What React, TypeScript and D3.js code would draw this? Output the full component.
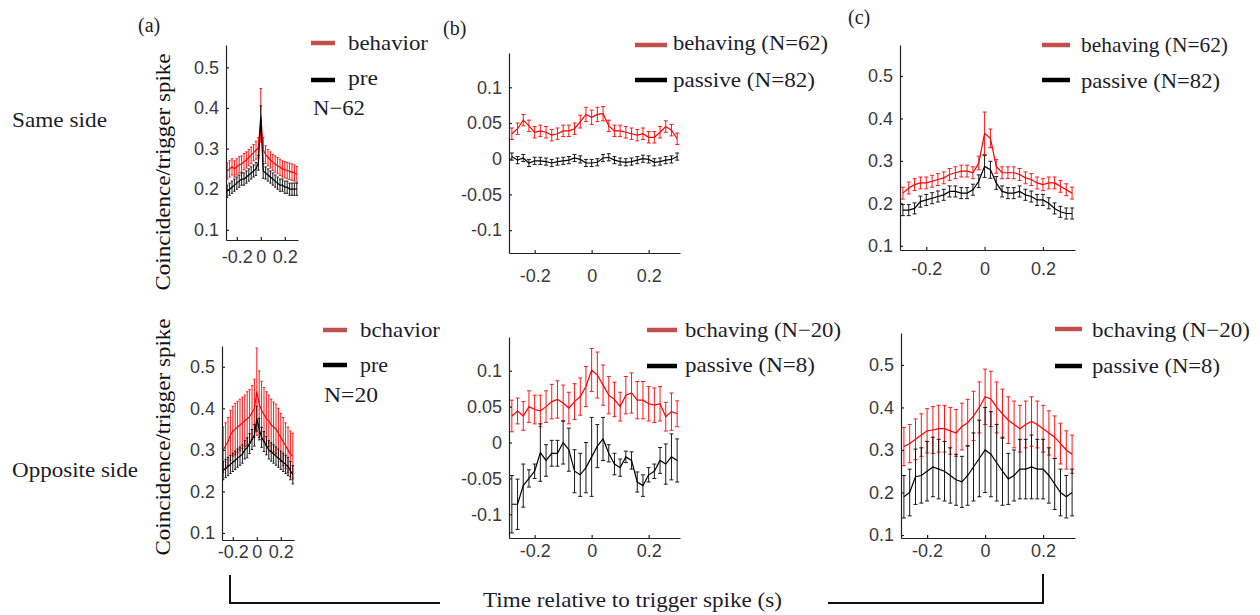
import { useEffect, useRef } from 'react';
import * as d3 from 'd3';

// time lags (s) of the coincidence histogram bins
const lag = [-0.28, -0.26, -0.24, -0.22, -0.2, -0.18, -0.16, -0.14, -0.12, -0.1, -0.08, -0.06, -0.04, -0.02, 0,
  0.02, 0.04, 0.06, 0.08, 0.1, 0.12, 0.14, 0.16, 0.18, 0.2, 0.22, 0.24, 0.26, 0.28, 0.3];

const xTicks = [-0.2, 0, 0.2];
const yTicksHigh = [0.1, 0.2, 0.3, 0.4, 0.5];
const yTicksLow = [-0.1, -0.05, 0, 0.05, 0.1];

// (a) same side
const aSameBeh = [0.245, 0.25, 0.255, 0.25, 0.255, 0.26, 0.262, 0.268, 0.272, 0.278, 0.284, 0.29, 0.296, 0.302, 0.382, 0.298, 0.285, 0.278, 0.272, 0.266, 0.262, 0.258, 0.254, 0.25, 0.248, 0.246, 0.244, 0.242, 0.24, 0.236];
const aSameBehErr = [0.02, 0.02, 0.02, 0.02, 0.02, 0.02, 0.02, 0.02, 0.02, 0.02, 0.02, 0.02, 0.022, 0.025, 0.066, 0.03, 0.022, 0.02, 0.02, 0.02, 0.02, 0.02, 0.02, 0.02, 0.02, 0.02, 0.02, 0.02, 0.02, 0.02];
const aSamePre = [0.195, 0.2, 0.205, 0.21, 0.215, 0.22, 0.225, 0.225, 0.23, 0.235, 0.24, 0.245, 0.25, 0.265, 0.375, 0.245, 0.24, 0.235, 0.23, 0.225, 0.22, 0.215, 0.21, 0.21, 0.205, 0.205, 0.2, 0.2, 0.2, 0.2];
const aSamePreErr = [0.015, 0.015, 0.015, 0.015, 0.015, 0.015, 0.015, 0.015, 0.015, 0.015, 0.015, 0.015, 0.016, 0.018, 0.03, 0.018, 0.015, 0.015, 0.015, 0.015, 0.015, 0.015, 0.015, 0.015, 0.015, 0.015, 0.015, 0.015, 0.015, 0.015];

// (b) same side
const bSameBeh = [0.035, 0.042, 0.054, 0.046, 0.037, 0.039, 0.037, 0.033, 0.035, 0.039, 0.039, 0.042, 0.052, 0.062, 0.058, 0.062, 0.063, 0.046, 0.039, 0.039, 0.037, 0.035, 0.033, 0.035, 0.03, 0.03, 0.037, 0.045, 0.04, 0.028];
const bSameBehErr = [0.008, 0.008, 0.008, 0.008, 0.008, 0.008, 0.008, 0.008, 0.008, 0.008, 0.008, 0.008, 0.009, 0.01, 0.01, 0.01, 0.01, 0.008, 0.008, 0.008, 0.008, 0.008, 0.008, 0.008, 0.008, 0.008, 0.008, 0.008, 0.008, 0.008];
const bSamePas = [0.003, -0.002, 0.001, -0.006, -0.003, -0.003, -0.004, -0.006, -0.004, -0.003, -0.002, 0.001, -0.001, -0.006, -0.006, -0.005, 0.001, 0.002, -0.002, -0.004, -0.005, -0.004, -0.002, 0.0, -0.001, -0.005, -0.004, -0.002, -0.001, 0.003];
const bSamePasErr = [0.005, 0.005, 0.005, 0.005, 0.005, 0.005, 0.005, 0.005, 0.005, 0.005, 0.005, 0.005, 0.005, 0.005, 0.005, 0.005, 0.005, 0.005, 0.005, 0.005, 0.005, 0.005, 0.005, 0.005, 0.005, 0.005, 0.005, 0.005, 0.005, 0.005];

// (c) same side
const cSameBeh = [0.224, 0.236, 0.244, 0.248, 0.248, 0.252, 0.256, 0.26, 0.268, 0.272, 0.276, 0.276, 0.272, 0.295, 0.365, 0.353, 0.287, 0.272, 0.272, 0.272, 0.268, 0.26, 0.256, 0.248, 0.244, 0.248, 0.248, 0.24, 0.232, 0.224];
const cSameBehErr = [0.014, 0.014, 0.014, 0.014, 0.014, 0.014, 0.014, 0.014, 0.014, 0.014, 0.014, 0.014, 0.014, 0.016, 0.05, 0.022, 0.016, 0.014, 0.014, 0.014, 0.014, 0.014, 0.014, 0.014, 0.014, 0.014, 0.014, 0.014, 0.014, 0.014];
const cSamePas = [0.184, 0.184, 0.188, 0.204, 0.208, 0.212, 0.216, 0.22, 0.228, 0.228, 0.224, 0.224, 0.232, 0.252, 0.287, 0.279, 0.248, 0.228, 0.224, 0.224, 0.228, 0.22, 0.216, 0.208, 0.208, 0.2, 0.188, 0.18, 0.176, 0.176];
const cSamePasErr = [0.013, 0.013, 0.013, 0.013, 0.013, 0.013, 0.013, 0.013, 0.013, 0.013, 0.013, 0.013, 0.013, 0.015, 0.026, 0.02, 0.015, 0.013, 0.013, 0.013, 0.013, 0.013, 0.013, 0.013, 0.013, 0.013, 0.013, 0.013, 0.013, 0.013];

// (a) opposite side
const aOppBeh = [0.3, 0.31, 0.32, 0.335, 0.345, 0.35, 0.355, 0.36, 0.365, 0.37, 0.375, 0.38, 0.39, 0.4, 0.44, 0.41, 0.395, 0.385, 0.375, 0.37, 0.36, 0.355, 0.35, 0.34, 0.33, 0.32, 0.31, 0.3, 0.29, 0.285];
const aOppBehErr = [0.055, 0.055, 0.058, 0.06, 0.06, 0.062, 0.062, 0.062, 0.062, 0.062, 0.065, 0.065, 0.065, 0.07, 0.105, 0.08, 0.07, 0.065, 0.065, 0.062, 0.062, 0.06, 0.06, 0.06, 0.058, 0.058, 0.055, 0.055, 0.055, 0.055];
const aOppPre = [0.25, 0.255, 0.26, 0.265, 0.27, 0.275, 0.28, 0.285, 0.29, 0.3, 0.305, 0.315, 0.325, 0.335, 0.375, 0.35, 0.33, 0.32, 0.31, 0.3, 0.295, 0.29, 0.285, 0.28, 0.275, 0.27, 0.265, 0.26, 0.25, 0.24];
const aOppPreErr = [0.022, 0.022, 0.022, 0.022, 0.022, 0.022, 0.022, 0.022, 0.022, 0.022, 0.024, 0.024, 0.024, 0.026, 0.03, 0.026, 0.024, 0.024, 0.022, 0.022, 0.022, 0.022, 0.022, 0.022, 0.022, 0.022, 0.022, 0.022, 0.022, 0.022];

// (b) opposite side
const bOppBeh = [0.037, 0.044, 0.037, 0.05, 0.046, 0.044, 0.05, 0.057, 0.06, 0.055, 0.048, 0.057, 0.064, 0.078, 0.101, 0.094, 0.08, 0.066, 0.06, 0.05, 0.066, 0.069, 0.059, 0.059, 0.054, 0.052, 0.054, 0.036, 0.043, 0.04];
const bOppBehErr = [0.022, 0.018, 0.02, 0.022, 0.02, 0.022, 0.022, 0.024, 0.026, 0.025, 0.022, 0.025, 0.026, 0.028, 0.03, 0.032, 0.028, 0.026, 0.024, 0.02, 0.026, 0.028, 0.026, 0.026, 0.024, 0.024, 0.024, 0.02, 0.026, 0.018];
const bOppPas = [-0.086, -0.086, -0.06, -0.05, -0.04, -0.014, -0.025, -0.015, -0.015, 0.0, -0.01, -0.04, -0.045, -0.035, -0.02, -0.005, 0.005, -0.015, -0.03, -0.035, -0.02, -0.025, -0.055, -0.06, -0.045, -0.04, -0.025, -0.03, -0.02, -0.025];
const bOppPasErr = [0.04, 0.035, 0.03, 0.012, 0.01, 0.04, 0.022, 0.018, 0.018, 0.03, 0.03, 0.03, 0.03, 0.035, 0.055, 0.03, 0.03, 0.012, 0.015, 0.012, 0.008, 0.012, 0.014, 0.015, 0.01, 0.01, 0.018, 0.028, 0.032, 0.03];

// (c) opposite side
const cOppBeh = [0.308, 0.315, 0.325, 0.335, 0.345, 0.347, 0.35, 0.35, 0.345, 0.34, 0.355, 0.364, 0.38, 0.4, 0.425, 0.42, 0.4, 0.385, 0.37, 0.36, 0.35, 0.36, 0.367, 0.36, 0.35, 0.34, 0.33, 0.315, 0.3, 0.29];
const cOppBehErr = [0.045, 0.045, 0.048, 0.05, 0.052, 0.055, 0.055, 0.055, 0.055, 0.055, 0.055, 0.055, 0.058, 0.06, 0.065, 0.065, 0.06, 0.058, 0.055, 0.055, 0.055, 0.055, 0.058, 0.055, 0.055, 0.052, 0.05, 0.048, 0.045, 0.045];
const cOppPas = [0.19, 0.2, 0.237, 0.24, 0.25, 0.26, 0.255, 0.25, 0.24, 0.23, 0.225, 0.24, 0.26, 0.28, 0.3, 0.29, 0.27, 0.25, 0.232, 0.24, 0.255, 0.255, 0.26, 0.255, 0.255, 0.24, 0.22, 0.2, 0.19, 0.2];
const cOppPasErr = [0.05, 0.055, 0.065, 0.065, 0.07, 0.07, 0.07, 0.07, 0.065, 0.06, 0.06, 0.07, 0.08, 0.09, 0.1, 0.1, 0.09, 0.08, 0.06, 0.06, 0.07, 0.07, 0.075, 0.07, 0.07, 0.065, 0.06, 0.055, 0.05, 0.055];

const RED = '#ff0000';
const BLACK = '#000000';
const SWATCH_RED = '#c0504d';
const SERIF = '"Liberation Serif", "Times New Roman", serif';
const SANS = '"Liberation Sans", Arial, sans-serif';

const panels = [
  { left: 226, right: 298, top: 45, bottom: 240, yDomain: [0.075, 0.555], yTicks: yTicksHigh, xPad: 10, cap: 1.2,
    series: [[aSameBeh, aSameBehErr, RED], [aSamePre, aSamePreErr, BLACK]],
    legend: [
      { sx: 311, sw: 24, sy: 43, color: SWATCH_RED, tx: 348, ty: 50, text: 'behavior', w: 80 },
      { sx: 311, sw: 24, sy: 80, color: BLACK, tx: 348, ty: 85, text: 'pre', w: 30 },
      { tx: 313, ty: 115, text: 'N\u221262', w: 52 },
    ] },
  { left: 509, right: 680, top: 53, bottom: 253, yDomain: [-0.132, 0.148], yTicks: yTicksLow, xPad: 16, cap: 2,
    series: [[bSameBeh, bSameBehErr, RED], [bSamePas, bSamePasErr, BLACK]],
    legend: [
      { sx: 635, sw: 32, sy: 45, color: SWATCH_RED, tx: 673, ty: 50, text: 'behaving (N=62)', w: 155 },
      { sx: 635, sw: 32, sy: 80, color: BLACK, tx: 673, ty: 87, text: 'passive (N=82)', w: 142 },
    ] },
  { left: 900, right: 1075, top: 45, bottom: 250, yDomain: [0.09, 0.573], yTicks: yTicksHigh, xPad: 12, cap: 2,
    series: [[cSameBeh, cSameBehErr, RED], [cSamePas, cSamePasErr, BLACK]],
    legend: [
      { sx: 1042, sw: 28, sy: 45, color: SWATCH_RED, tx: 1081, ty: 52, text: 'behaving (N=62)', w: 147 },
      { sx: 1042, sw: 28, sy: 80, color: BLACK, tx: 1081, ty: 88, text: 'passive (N=82)', w: 139 },
    ] },
  { left: 222, right: 294, top: 346, bottom: 540, yDomain: [0.083, 0.55], yTicks: yTicksHigh, xPad: 5, cap: 1.2,
    series: [[aOppBeh, aOppBehErr, RED], [aOppPre, aOppPreErr, BLACK]],
    legend: [
      { sx: 323, sw: 24, sy: 330, color: SWATCH_RED, tx: 360, ty: 337, text: 'bchavior', w: 80 },
      { sx: 323, sw: 24, sy: 365, color: BLACK, tx: 360, ty: 372, text: 'pre', w: 28 },
      { tx: 324, ty: 402, text: 'N=20', w: 54 },
    ] },
  { left: 509, right: 680, top: 337, bottom: 538, yDomain: [-0.133, 0.147], yTicks: yTicksLow, xPad: 6, cap: 2,
    series: [[bOppBeh, bOppBehErr, RED], [bOppPas, bOppPasErr, BLACK]],
    legend: [
      { sx: 647, sw: 30, sy: 330, color: SWATCH_RED, tx: 685, ty: 337, text: 'bchaving (N\u221220)', w: 156 },
      { sx: 647, sw: 30, sy: 366, color: BLACK, tx: 685, ty: 372, text: 'passive (N=8)', w: 130 },
    ] },
  { left: 901, right: 1075, top: 333, bottom: 538, yDomain: [0.093, 0.575], yTicks: yTicksHigh, xPad: 6, cap: 2,
    series: [[cOppBeh, cOppBehErr, RED], [cOppPas, cOppPasErr, BLACK]],
    legend: [
      { sx: 1055, sw: 27, sy: 329, color: SWATCH_RED, tx: 1092, ty: 337, text: 'bchaving (N\u221220)', w: 158 },
      { sx: 1055, sw: 27, sy: 366, color: BLACK, tx: 1092, ty: 373, text: 'passive (N=8)', w: 128 },
    ] },
];

const fmt = (d: number) => (Math.abs(d) < 1e-9 ? '0' : String(+d.toFixed(2)));

function drawPanel(svg: any, p: any) {
  const x = d3.scaleLinear().domain([-0.29, 0.31]).range([p.left, p.right]);
  const y = d3.scaleLinear().domain(p.yDomain).range([p.bottom, p.top]);
  const g = svg.append('g');

  p.series.forEach(([mean, err, color]: [number[], number[], string]) => {
    const pts = lag.map((t, i) => ({ t, m: mean[i], e: err[i] }));
    const bars = g.append('g').attr('stroke', color).attr('stroke-width', 1).attr('opacity', 0.9);
    pts.forEach(d => {
      const cx = x(d.t);
      const y1 = y(d.m - d.e);
      const y2 = y(d.m + d.e);
      bars.append('line').attr('x1', cx).attr('x2', cx).attr('y1', y1).attr('y2', y2);
      bars.append('line').attr('x1', cx - p.cap).attr('x2', cx + p.cap).attr('y1', y1).attr('y2', y1);
      bars.append('line').attr('x1', cx - p.cap).attr('x2', cx + p.cap).attr('y1', y2).attr('y2', y2);
    });
    g.append('path')
      .datum(pts)
      .attr('fill', 'none')
      .attr('stroke', color)
      .attr('stroke-width', 1.2)
      .attr('d', d3.line<any>().x(d => x(d.t)).y(d => y(d.m)));
  });

  const xAxis = g.append('g')
    .attr('transform', `translate(0, ${p.bottom})`)
    .call(d3.axisBottom(x).tickValues(xTicks).tickSize(-3).tickSizeOuter(0).tickPadding(p.xPad).tickFormat(fmt as any));
  const yAxis = g.append('g')
    .attr('transform', `translate(${p.left}, 0)`)
    .call(d3.axisLeft(y).tickValues(p.yTicks).tickSize(-3).tickSizeOuter(0).tickPadding(7).tickFormat(fmt as any));
  [xAxis, yAxis].forEach(a => {
    a.attr('font-family', SANS).attr('font-size', 18);
    a.selectAll('path, line').attr('stroke', '#222').attr('stroke-width', 1.2);
    a.selectAll('text').attr('fill', '#3a3a3a');
  });

  p.legend.forEach((l: any) => {
    if (l.sx !== undefined) {
      g.append('line')
        .attr('x1', l.sx).attr('x2', l.sx + l.sw)
        .attr('y1', l.sy).attr('y2', l.sy)
        .attr('stroke', l.color).attr('stroke-width', 4.5);
    }
    g.append('text')
      .attr('x', l.tx).attr('y', l.ty)
      .attr('font-family', SERIF).attr('font-size', 21)
      .attr('fill', '#1d1d2b')
      .attr('textLength', l.w).attr('lengthAdjust', 'spacingAndGlyphs')
      .text(l.text);
  });
}

export default function App() {
  const svgRef = useRef<SVGSVGElement>(null);

  useEffect(() => {
    if (!svgRef.current) return;
    const svg = d3.select(svgRef.current);
    svg.selectAll('*').remove();

    panels.forEach(p => drawPanel(svg, p));

    const label = (txt: string, x: number, y: number, size: number, w?: number) => {
      const t = svg.append('text')
        .attr('x', x).attr('y', y)
        .attr('font-family', SERIF).attr('font-size', size)
        .attr('fill', '#1d1d2b')
        .text(txt);
      if (w) t.attr('textLength', w).attr('lengthAdjust', 'spacingAndGlyphs');
      return t;
    };

    label('(a)', 138, 32, 20);
    label('(b)', 443, 35, 20);
    label('(c)', 848, 24, 20);
    label('Same side', 12, 127, 21, 95);
    label('Opposite side', 12, 477, 21, 126);

    [172, 437].forEach(cy => {
      svg.append('text')
        .attr('transform', `translate(170, ${cy}) rotate(-90)`)
        .attr('text-anchor', 'middle')
        .attr('font-family', SERIF).attr('font-size', 21)
        .attr('fill', '#111')
        .attr('textLength', 237).attr('lengthAdjust', 'spacingAndGlyphs')
        .text('Coincidence/trigger spike');
    });

    label('Time relative to trigger spike (s)', 483, 607, 21, 299);

    svg.append('path')
      .attr('d', 'M230,575 V603 H440')
      .attr('fill', 'none').attr('stroke', '#111').attr('stroke-width', 2);
    svg.append('path')
      .attr('d', 'M828,603 H1043 V574')
      .attr('fill', 'none').attr('stroke', '#111').attr('stroke-width', 2);
  }, []);

  return (
    <svg
      ref={svgRef}
      width={1260}
      height={615}
      style={{ position: 'absolute', left: 0, top: 0, background: '#fff' }}
    />
  );
}
